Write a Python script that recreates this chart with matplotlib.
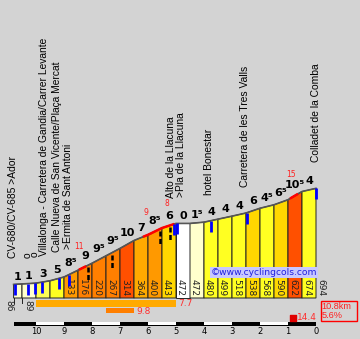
import numpy as np
import matplotlib
matplotlib.use("Agg")
import matplotlib.pyplot as plt
from matplotlib.patches import Rectangle

# climb profile: km to go at each column boundary, altitude there, grade per column
km = np.array([10.8, 10.5, 10.0, 9.5, 9.0, 8.5, 8.0, 7.5, 7.0, 6.5, 6.0, 5.5,
               5.0, 4.5, 4.0, 3.5, 3.0, 2.5, 2.0, 1.5, 1.0, 0.5, 0.0])
alts = np.array([86, 89, 94, 109, 133, 176, 220, 267, 314, 364, 400, 443,
                 472, 472, 480, 499, 518, 538, 568, 590, 622, 674, 694])
grades = [1, 1, 3, 5, 8.5, 9, 9.5, 9.5, 10, 7, 8.5, 6,
          0, 1.5, 4, 4, 4, 6, 4.5, 6.5, 10.5, 4]
# which altitudes get printed under the columns
alt_shown = [True, True, False, False] + [True] * 19

# waypoints (km to go) and their names
wp_km = [10.75, 10.29, 10.04, 9.8, 9.19, 8.83, 5.07, 4.97, 3.75, 2.46, 0.0]
wp_names = ["CV-680/CV-685 >Ador", "o", "o",
            "Villalonga - Carretera de Gandia/Carrer Levante",
            "Calle Nueva de San Vicente/Plaça Mercat",
            ">Ermita de Sant Antoni",
            "Alto de la Llacuna", ">Pla de la Llacuna",
            "hotel Bonestar", "Carretera de les Tres Valls",
            "Colladet de la Comba"]

# hairpins / bends
bend_km = [8.14, 7.29, 5.57, 5.21]

# steepest stretches (km to go start/end) and their max grade
steep_start = [8.43, 6.14, 5.86, 0.89]
steep_end = [8.25, 5.93, 5.10, 0.68]
steep_max = ["11", "9", "8", "15"]
steep_label_km = [8.46, 6.07, 5.32, 0.89]

# best 5 km and best 1 km averages, max grade, totals
best5 = (10.0, 5.0, 7.7)
best1 = (7.5, 6.5, 9.8)
max_grade = 14.4
total_km = 10.8
avg_grade = 5.6

BG = "#d3d3d3"
PXK = 28.0      # px per km
PXM = 0.158     # px per metre


def px_h(p):
    return p / PXM


def px_w(p):
    return p / PXK


def ypix(p):
    # altitude sitting at a given pixel row
    return (298 - p) / PXM


def xpix(p):
    return (316 - p) / PXK


def grade_color(g):
    if g < 0.5:
        return "#ffffff"
    if g < 2:
        return "#ffffcc"
    if g < 3.5:
        return "#ffff55"
    if g < 5.5:
        return "#ffff22"
    if g < 6.8:
        return "#ffd700"
    if g < 8:
        return "#ffaa00"
    if g < 8.8:
        return "#ff9900"
    if g < 9.8:
        return "#ff7f00"
    return "#ff5000"


def profile(x):
    return np.interp(x, km[::-1], alts[::-1])


fig = plt.figure(figsize=(3.6, 3.39), dpi=100, facecolor=BG)
ax = fig.add_axes([0, 0, 1, 1])
ax.set_facecolor(BG)
ax.set_xlim(xpix(0), xpix(360))
ax.set_ylim(ypix(339), ypix(0))
ax.axis("off")

# columns
for i, g in enumerate(grades):
    xs = [km[i], km[i], km[i + 1], km[i + 1]]
    ys = [0, alts[i], alts[i + 1], 0]
    ax.fill(xs, ys, facecolor=grade_color(g), edgecolor="#222222", lw=0.7, zorder=2)
    sup = "⁵" if g % 1 else ""
    ax.text((km[i] + km[i + 1]) / 2, alts[i + 1] + px_h(2), f"{int(g)}{sup}",
            ha="center", va="bottom", fontsize=8, fontweight="bold",
            family="DejaVu Sans", color="black", zorder=5)

# profile outline
ax.plot(km, alts, color="#555555", lw=1.2, zorder=3)

# altitude labels
for i, a in enumerate(alts):
    if not alt_shown[i]:
        continue
    if i < 2:
        ax.plot([km[i], km[i]], [0, px_h(-5)], color="#222222", lw=0.7)
        off = -4.5 if i == 0 else 5.5
        ax.text(km[i] - px_w(off), px_h(-2), str(a), rotation=-90, ha="center",
                va="top", fontsize=6.5, color="#222222")
    else:
        ax.text(km[i] - px_w(4.5), px_h(2), str(a), rotation=-90, ha="center",
                va="bottom", fontsize=6.5, color="#222222", zorder=4)

# steep stretches in red on the outline
for s, e, lab, lk in zip(steep_start, steep_end, steep_max, steep_label_km):
    xx = np.linspace(s, e, 20)
    ax.plot(xx, profile(xx), color="red", lw=1.8, zorder=4)
    ax.text(lk, profile(lk) + px_h(23), lab, ha="center", va="center",
            fontsize=5.5, color="#ff2020", zorder=5)

# bends
for b in bend_km:
    top = profile(b)
    ax.plot([b, b], [top - px_h(2), top - px_h(17)], color="black", lw=1.8,
            ls=(0, (2, 1)), zorder=4)

# waypoint markers and names
label_shift = [0.07, 0.0, 0.0, -0.1, 0.06, 0.03, 0.1, -0.14, 0.06, 0.07, 0.0]
for k, name, sh in zip(wp_km, wp_names, label_shift):
    top = profile(k)
    ax.plot([k, k], [top, top - px_h(11)], color="#0000ff", lw=2, zorder=4,
            solid_capstyle="butt")
    ax.text(k + sh, top + px_h(26), name, rotation=90, ha="center", va="bottom",
            fontsize=7.4, family="Liberation Sans", color="black")

# watermark
ax.text(xpix(211), ypix(272.5), "©www.cyclingcols.com", ha="left",
        va="center", fontsize=6.6, color="#1f1fe0", family="DejaVu Sans",
        bbox=dict(boxstyle="square,pad=0.1", fc="#c8c8ff", ec="none"), zorder=6)

# best 5 km / best 1 km bars
ax.barh(ypix(303.5), best5[1] - best5[0], left=best5[0], height=px_h(7),
        color="#ffaa00", align="center")
ax.text(best5[1] - px_w(2), ypix(304), f"{best5[2]}", ha="left", va="center",
        fontsize=6.5, color="#ff3030")
ax.barh(ypix(310.5), best1[1] - best1[0], left=best1[0], height=px_h(5),
        color="#ff7f00", align="center")
ax.text(best1[1] - px_w(2), ypix(311), f"{best1[2]}", ha="left", va="center",
        fontsize=6.5, color="#ff3030")

# max grade
ax.scatter([xpix(292.5)], [ypix(317.5)], marker="s", s=18, color="#e00000",
           zorder=5)
ax.text(xpix(297), ypix(318), f"{max_grade}", ha="left", va="center",
        fontsize=6.5, color="#ff3030")

# totals box
ax.add_patch(Rectangle((xpix(357), ypix(321)), px_w(36.5), px_h(20), fc="none",
                       ec="red", lw=1))
ax.text(xpix(321.5), ypix(311), f"{total_km}km\n{avg_grade}%", ha="left",
        va="center", fontsize=6.6, color="#ff2020", linespacing=0.95,
        family="Liberation Sans")

# km scale
ax.barh(ypix(324), -total_km, left=total_km, height=px_h(4), color="black",
        align="center")
for k in range(1, 10, 2):
    ax.barh(ypix(323.4), 1, left=k, height=px_h(2.2), color="white",
            align="center")
for k in range(0, 11):
    ax.text(k, ypix(331.5), str(k), ha="center", va="center", fontsize=6,
            color="black")

fig.savefig("out.png", dpi=100, facecolor=BG)
